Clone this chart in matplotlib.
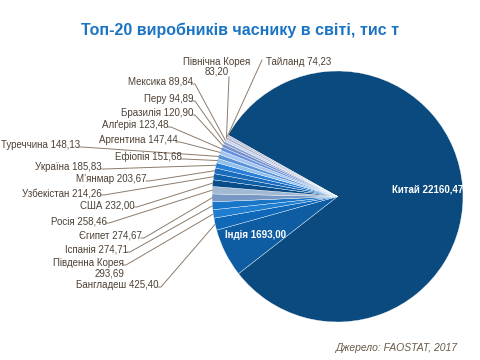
import numpy as np
import matplotlib
matplotlib.use("Agg")
import matplotlib.pyplot as plt

plt.rcParams['font.family'] = ['Liberation Sans', 'DejaVu Sans']

# data, clockwise from the big slice
COUNTRIES = ["Китай", "Індія", "Бангладеш", "Південна Корея", "Іспанія", "Єгипет",
             "Росія", "США", "Узбекістан", "М’янмар", "Україна", "Ефіопія",
             "Туреччина", "Аргентина", "Алґерія", "Бразилія", "Перу", "Мексика",
             "Північна Корея", "Тайланд"]
VALUES = [22160.47, 1693.00, 425.40, 293.69, 274.71, 274.67, 258.46, 232.00,
          214.26, 203.67, 185.83, 151.68, 148.13, 147.44, 123.48, 120.90,
          94.89, 89.84, 83.20, 74.23]
COLORS = ["#0B4A7E", "#0E5CA2", "#1068B8", "#1F7ED0", "#1876C8", "#7898C4",
          "#A2B9D4", "#0A4C88", "#1060A8", "#1A6CBC", "#2A80D8", "#92C0EE",
          "#5A92D8", "#A6C6F0", "#6492E0", "#7890C8", "#8AA0D0", "#C4D4F2",
          "#A8B0CC", "#BCC0D4"]

# label layout in pixel coords: (x, y, ha)
LAYOUT = {
    "Бангладеш": (159, 285, "right"),
    "Південна Корея": (124, 268, "right"),
    "Іспанія": (128, 250, "right"),
    "Єгипет": (142, 236, "right"),
    "Росія": (107, 221, "right"),
    "США": (135, 205, "right"),
    "Узбекістан": (102, 193, "right"),
    "М’янмар": (147, 179, "right"),
    "Україна": (102, 167, "right"),
    "Ефіопія": (182, 157, "right"),
    "Туреччина": (80, 145, "right"),
    "Аргентина": (178, 140, "right"),
    "Алґерія": (169, 125, "right"),
    "Бразилія": (193, 113, "right"),
    "Перу": (193, 99, "right"),
    "Мексика": (193, 82, "right"),
    "Північна Корея": (217, 67, "center"),
    "Тайланд": (266, 62, "left"),
}
LEADER_START = {"Північна Корея": (229, 77), "Тайланд": (262, 60),
                "Південна Корея": (126, 265)}

W, H = 480, 360
CX, CY, R = 337.5, 196.5, 125.5
START = 150.7

def fmt(v):
    return f"{v:.2f}".replace(".", ",")

fig = plt.figure(figsize=(4.8, 3.6), dpi=100)
ax = fig.add_axes([0, 0, 1, 1])

ax.pie(VALUES, colors=COLORS, startangle=START, counterclock=False,
       center=(CX, H - CY), radius=R,
       wedgeprops=dict(edgecolor="white", linewidth=0.25), frame=True)
ax.set_xlim(0, W); ax.set_ylim(0, H)
ax.set_aspect("equal"); ax.axis("off")

total = sum(VALUES)
ang = START
txtc = "#4E4034"
linec = "#8C7B6B"
for name, v in zip(COUNTRIES, VALUES):
    span = v / total * 360
    mid = np.deg2rad(ang - span / 2)
    ang -= span
    ex, ey = CX + R * np.cos(mid), (H - CY) + R * np.sin(mid)
    if name not in LAYOUT:
        continue
    tx, ty, ha = LAYOUT[name]
    if name in ("Північна Корея", "Південна Корея"):
        label = f"{name}\n{fmt(v)}"
    else:
        label = f"{name} {fmt(v)}"
    ax.text(tx, H - ty, label, ha=ha, va="center", fontsize=7, color=txtc,
            linespacing=1.0)
    if name in LEADER_START:
        lx, ly = LEADER_START[name]
    else:
        lx, ly = tx + 2, ty + 2
    ax.plot([lx - 3 if ha == "right" else lx, lx, ex], [H - ly, H - ly, ey],
            color=linec, lw=0.7)

ax.text(463, H - 190, "Китай 22160,47", ha="right", va="center", fontsize=7,
        color="white", fontweight="bold")
ax.text(225, H - 235, "Індія 1693,00", ha="left", va="center", fontsize=7,
        color="white", fontweight="bold")

ax.text(240, H - 30, "Топ-20 виробників часнику в світі, тис т", ha="center",
        va="center", fontsize=11.5, fontweight="bold", color="#1C74C4")
ax.text(458, H - 348, "Джерело: FAOSTAT, 2017", ha="right", va="center",
        fontsize=7.5, style="italic", color="#6A5A4A")

fig.savefig("out.png", dpi=100)
